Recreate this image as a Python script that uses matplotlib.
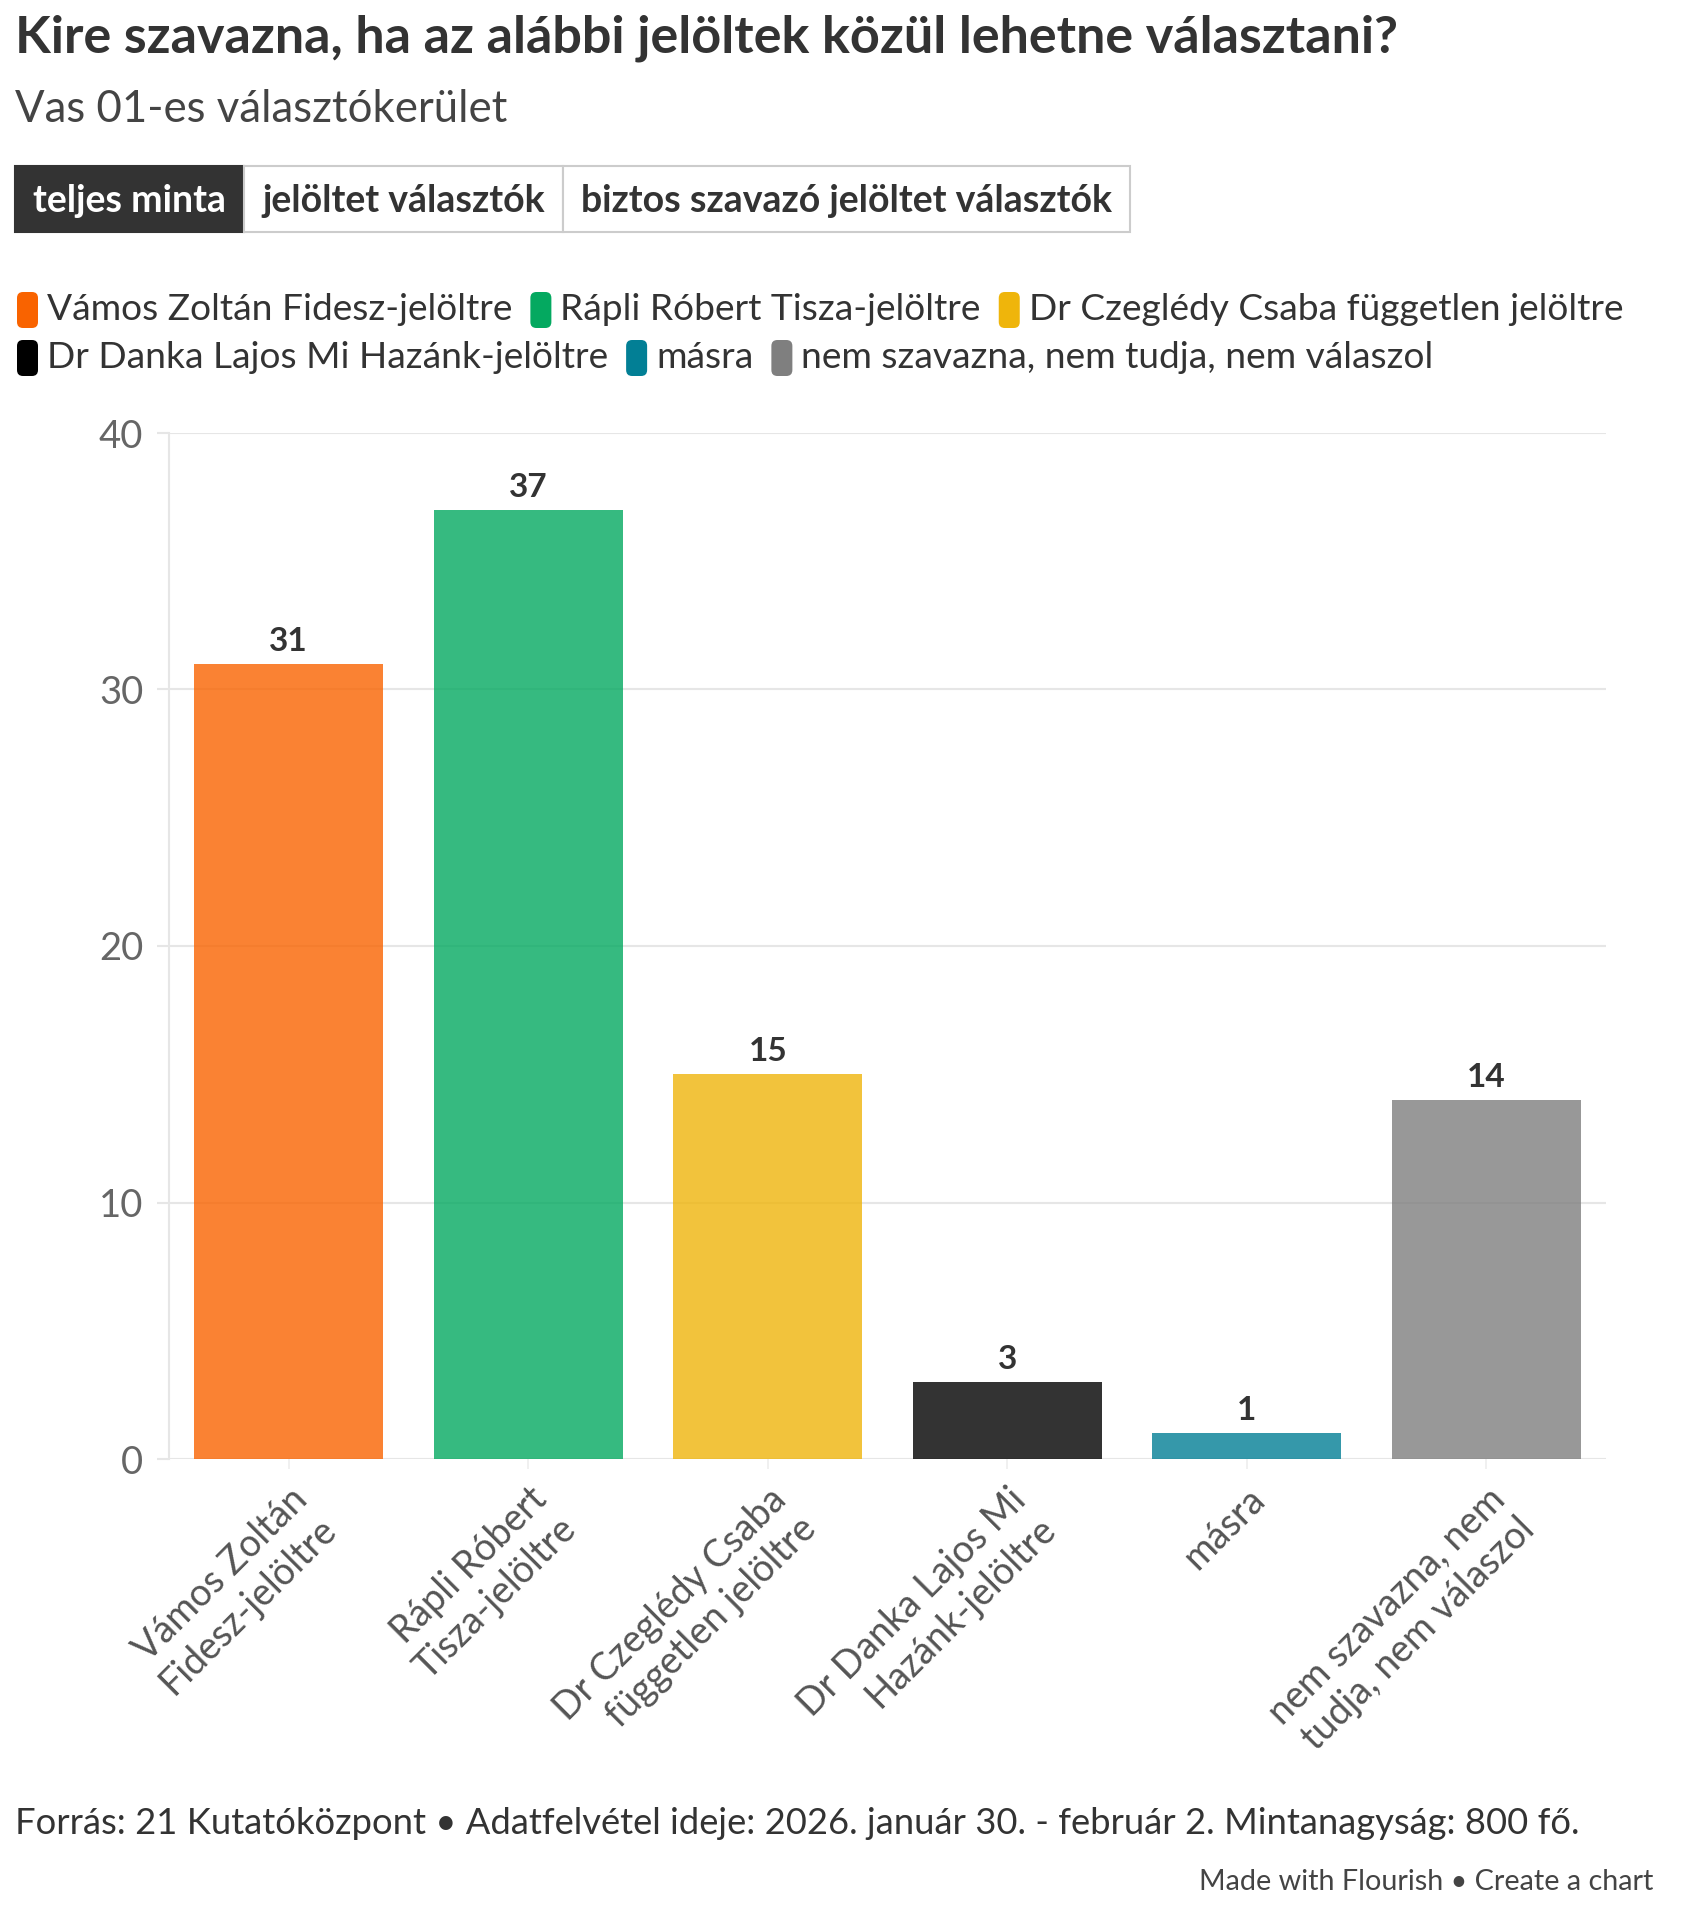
import matplotlib
matplotlib.use("Agg")
import matplotlib.pyplot as plt
from matplotlib.patches import FancyBboxPatch, Rectangle
from matplotlib.transforms import IdentityTransform

plt.rcParams["font.family"] = ["Lato", "DejaVu Sans"]

W, H = 1682, 1920

categories = ["Vámos Zoltán\nFidesz-jelöltre", "Rápli Róbert\nTisza-jelöltre",
              "Dr Czeglédy Csaba\nfüggetlen jelöltre", "Dr Danka Lajos Mi\nHazánk-jelöltre",
              "másra", "nem szavazna, nem\ntudja, nem válaszol"]
legend_labels = ["Vámos Zoltán Fidesz-jelöltre", "Rápli Róbert Tisza-jelöltre",
                 "Dr Czeglédy Csaba független jelöltre", "Dr Danka Lajos Mi Hazánk-jelöltre",
                 "másra", "nem szavazna, nem tudja, nem válaszol"]
values = [31, 37, 15, 3, 1, 14]
colors = ["#F96300", "#04A960", "#EFB50B", "#000000", "#027F95", "#7F7F7F"]
yticks = [0, 10, 20, 30, 40]
buttons = ["teljes minta", "jelöltet választók", "biztos szavazó jelöltet választók"]

title = "Kire szavazna, ha az alábbi jelöltek közül lehetne választani?"
subtitle = "Vas 01-es választókerület"
source = "Forrás: 21 Kutatóközpont • Adatfelvétel ideje: 2026. január 30. - február 2. Mintanagyság: 800 fő."
credit = "Made with Flourish • Create a chart"

fig = plt.figure(figsize=(W / 100, H / 100), dpi=100)
fig.patch.set_facecolor("white")
ident = IdentityTransform()
renderer = fig.canvas.get_renderer()


def ptext(x, y, s, **kw):  # text placed in pixel coords, y measured from top
    return fig.text(x, H - y, s, transform=ident, **kw)


def width_of(t):
    return t.get_window_extent(renderer=renderer).width


# header
ptext(15, 38, title, fontsize=37.5, fontweight="bold", color="#333333", va="center")
ptext(15, 110, subtitle, fontsize=31.5, color="#444444", va="center")

# button group
bx, by0, by1 = 15, 166, 232
for i, b in enumerate(buttons):
    t = ptext(0, (by0 + by1) / 2 + 2, b, fontsize=27, fontweight="bold",
              color="white" if i == 0 else "#333333", va="center", ha="center", zorder=3)
    bw = width_of(t) + 36
    t.set_x(bx + bw / 2)
    fig.add_artist(Rectangle((bx, H - by1), bw, by1 - by0, transform=ident,
                             facecolor="#333333" if i == 0 else "white",
                             edgecolor="#333333" if i == 0 else "#cccccc", lw=1.5, zorder=2))
    bx += bw

# legend, laid out left to right in two rows
rows = [[0, 1, 2], [3, 4, 5]]
for r, idx in enumerate(rows):
    y = 310 + r * 48
    x = 17
    for i in idx:
        fig.add_artist(FancyBboxPatch((x + 4, H - y - 14), 13, 28, transform=ident,
                                      boxstyle="round,pad=4,rounding_size=6",
                                      facecolor=colors[i], edgecolor="none"))
        t = ptext(x + 30, y, legend_labels[i], fontsize=26.7, color="#333333", va="center")
        x += 30 + width_of(t) + 18

# chart
ax = fig.add_axes([169 / W, 1 - 1459 / H, (1606 - 169) / W, (1459 - 433) / H])
xs = range(len(values))
bars = ax.bar(xs, values, width=0.79, color=colors, alpha=0.8, zorder=2)
for b, v in zip(bars, values):
    ax.annotate(str(v), (b.get_x() + b.get_width() / 2, v), xytext=(0, 9.5),
                textcoords="offset points", ha="center", va="baseline",
                fontsize=24, fontweight="bold", color="#333333")

ax.set_xlim(-0.5, len(values) - 0.5)
ax.set_ylim(0, 40)
ax.set_yticks(yticks)
ax.yaxis.grid(True, color="#e6e6e6", lw=1.5, zorder=0)
ax.set_axisbelow(True)
for s in ["top", "right", "bottom"]:
    ax.spines[s].set_visible(False)
ax.spines["left"].set_color("#e6e6e6")
ax.spines["left"].set_linewidth(1.5)
ax.tick_params(axis="y", length=8.6, width=1.5, color="#e6e6e6", pad=10,
               labelsize=27.5, labelcolor="#666666")
ax.set_xticks(list(xs))
ax.set_xticklabels(categories, rotation=45, ha="right", va="top", rotation_mode="anchor")
ax.tick_params(axis="x", length=7, width=1.2, color="#eeeeee", pad=9,
               labelsize=27, labelcolor="#555555")

# footer
ptext(15, 1824, source, fontsize=26.2, color="#333333", va="center")
ptext(1653, 1882, credit, fontsize=20.7, color="#444444", va="center", ha="right")

fig.savefig("out.png", dpi=100)
